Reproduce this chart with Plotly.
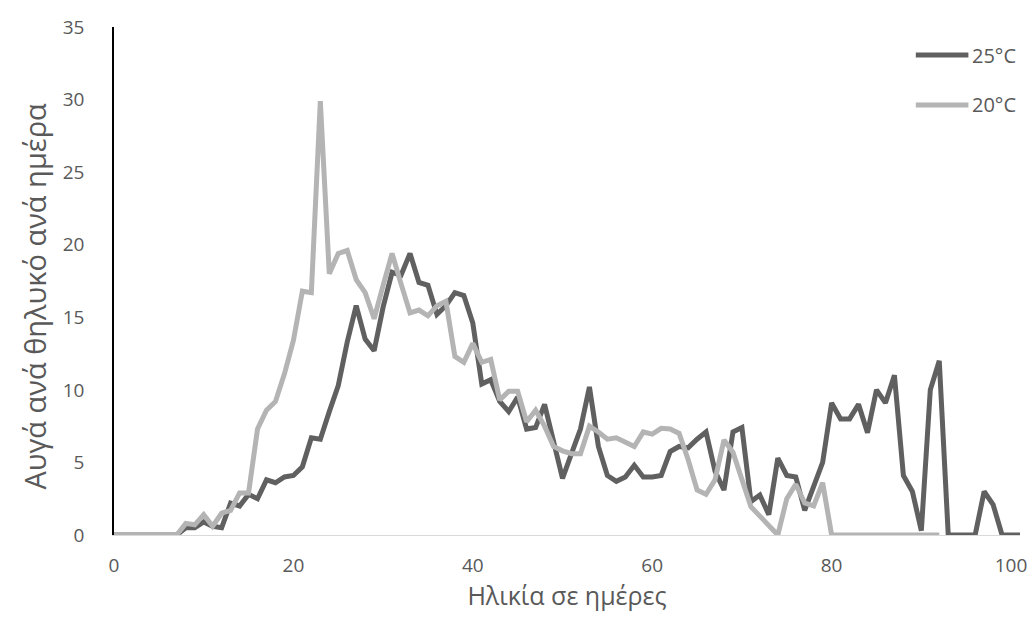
import plotly.graph_objects as go

days_25 = list(range(0, 102))
eggs_25 = [0, 0, 0, 0, 0, 0, 0, 0, 0.5, 0.5,
           0.9, 0.6, 0.5, 2.2, 2.0, 2.8, 2.5, 3.8, 3.6, 4.0,
           4.1, 4.7, 6.7, 6.6, 8.5, 10.3, 13.3, 15.8, 13.5, 12.7,
           15.7, 18.1, 17.9, 19.4, 17.4, 17.2, 15.2, 15.8, 16.7, 16.5,
           14.6, 10.4, 10.7, 9.2, 8.5, 9.5, 7.3, 7.4, 9.0, 6.6,
           3.9, 5.6, 7.3, 10.2, 6.1, 4.1, 3.7, 4.0, 4.8, 4.0,
           4.0, 4.1, 5.75, 6.1, 6.0, 6.6, 7.1, 4.4, 3.1, 7.1,
           7.4, 2.3, 2.75, 1.4, 5.3, 4.1, 4.0, 1.7, 3.4, 5.0,
           9.1, 8.0, 8.0, 9.0, 7.05, 10.0, 9.1, 11.0, 4.1, 3.0,
           0.3, 10.0, 12.0, 0, 0, 0, 0, 3.0, 2.1, 0,
           0, 0]

days_20 = list(range(0, 93))
eggs_20 = [0, 0, 0, 0, 0, 0, 0, 0, 0.8, 0.7,
           1.4, 0.6, 1.5, 1.7, 2.9, 2.9, 7.3, 8.6, 9.2, 11.1,
           13.4, 16.8, 16.7, 29.9, 18.0, 19.4, 19.6, 17.6, 16.7, 14.9,
           17.2, 19.4, 17.3, 15.3, 15.5, 15.1, 15.8, 16.1, 12.3, 11.9,
           13.2, 11.9, 12.1, 9.3, 9.9, 9.9, 7.8, 8.6, 7.5, 6.1,
           5.8, 5.6, 5.6, 7.5, 7.1, 6.6, 6.7, 6.4, 6.1, 7.1,
           6.95, 7.35, 7.3, 7.0, 5.2, 3.1, 2.8, 3.8, 6.55, 5.7,
           3.8, 1.95, 1.3, 0.7, 0, 2.5, 3.5, 2.2, 2.0, 3.6,
           0, 0, 0, 0, 0, 0, 0, 0, 0, 0,
           0, 0, 0]

series_names = ["25°C", "20°C"]
x_ticks = [0, 20, 40, 60, 80, 100]
y_ticks = [0, 5, 10, 15, 20, 25, 30, 35]
x_title = "Ηλικία σε ημέρες"
y_title = "Αυγά ανά θηλυκό ανά ημέρα"

DARK = "#606060"
LIGHT = "#b4b4b4"
TXT = "#595959"
FONT = "Open Sans, sans-serif"

fig = go.Figure()
fig.add_trace(go.Scatter(x=days_25, y=eggs_25, mode="lines", name=series_names[0],
                         line=dict(color=DARK, width=5), showlegend=False))
fig.add_trace(go.Scatter(x=days_20, y=eggs_20, mode="lines", name=series_names[1],
                         line=dict(color=LIGHT, width=5), showlegend=False))

# legend drawn manually to match the reference sample length
legend_rows = [(series_names[0], DARK, 55), (series_names[1], LIGHT, 105)]
for name, col, ypx in legend_rows:
    yp = 1 - (ypx - 27) / 508
    fig.add_shape(type="line", xref="paper", yref="paper",
                  x0=(922 - 114) / 913, x1=(975 - 114) / 913, y0=yp, y1=yp,
                  line=dict(color=col, width=5))
    fig.add_annotation(xref="paper", yref="paper", x=(977 - 114) / 913, y=yp,
                       text=name, showarrow=False, xanchor="left", yanchor="middle",
                       font=dict(family=FONT, size=20, color=TXT))

# y-axis title (placed as in the reference, slightly below the plot centre)
fig.add_annotation(xref="paper", yref="paper", x=(33 - 114) / 913,
                   y=1 - (296 - 27) / 508, text=y_title, textangle=-90,
                   showarrow=False, xanchor="center", yanchor="middle",
                   font=dict(family=FONT, size=29, color=TXT))

fig.update_layout(
    width=1035, height=619,
    margin=dict(l=114, r=8, t=27, b=84),
    paper_bgcolor="white", plot_bgcolor="white",
    font=dict(family=FONT, size=19, color=TXT),
    showlegend=False,
)
fig.update_xaxes(range=[0, 101], tickvals=x_ticks, showgrid=False, zeroline=False,
                 showline=True, linecolor="#d9d9d9", linewidth=1, ticks="",
                 ticklabelstandoff=13, tickfont=dict(size=19),
                 title=dict(text=x_title, font=dict(family=FONT, size=25, color=TXT), standoff=9))
fig.update_yaxes(range=[0, 35], tickvals=y_ticks, showgrid=False, zeroline=False,
                 showline=True, linecolor="black", linewidth=1.5, ticks="",
                 ticklabelstandoff=24, tickfont=dict(size=19))

fig.write_html("out.html")
